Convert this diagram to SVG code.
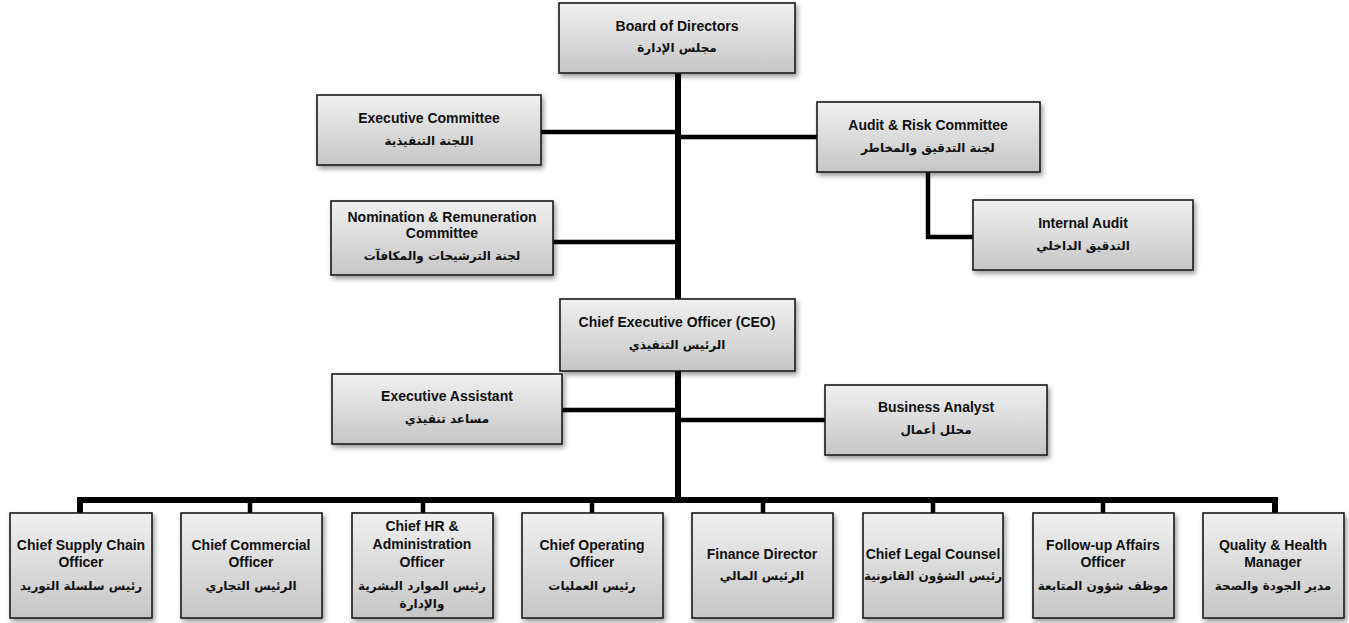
<svg xmlns="http://www.w3.org/2000/svg" width="1349" height="623" viewBox="0 0 1349 623">
<defs>
<linearGradient id="g" x1="0" y1="0" x2="0" y2="1">
<stop offset="0" stop-color="#f0f0f0"/>
<stop offset="1" stop-color="#c6c6c6"/>
</linearGradient>
<filter id="sh" x="-10%" y="-10%" width="125%" height="135%">
<feDropShadow dx="2" dy="3" stdDeviation="2.5" flood-color="#000" flood-opacity="0.4"/>
</filter>
</defs>
<style>
.box{fill:url(#g);stroke:#1a1a1a;stroke-width:1.6;filter:url(#sh)}
.en{font-family:"Liberation Sans",Arial,sans-serif;font-weight:bold;font-size:14px;fill:#111;text-anchor:middle}
.ar{font-family:"DejaVu Sans","Noto Sans",sans-serif;font-weight:bold;font-size:12px;fill:#111;text-anchor:middle}
.c{stroke:#000;fill:none;stroke-linejoin:miter}
.t{stroke-width:6}
.h{stroke-width:4.5}
</style>
<g id="connectors">
<line class="c t" x1="678" y1="73" x2="678" y2="503"/>
<line class="c h" x1="541" y1="132" x2="678" y2="132"/>
<line class="c h" x1="678" y1="137" x2="817" y2="137"/>
<polyline class="c h" points="928,172 928,237 973,237"/>
<line class="c h" x1="553" y1="242" x2="678" y2="242"/>
<line class="c h" x1="562" y1="410" x2="678" y2="410"/>
<line class="c h" x1="678" y1="420" x2="825" y2="420"/>
<polyline class="c t" points="80,513 80,500 1275,500 1275,513"/>
<line class="c h" x1="250" y1="500" x2="250" y2="513"/>
<line class="c h" x1="423" y1="500" x2="423" y2="513"/>
<line class="c h" x1="592" y1="500" x2="592" y2="513"/>
<line class="c h" x1="763" y1="500" x2="763" y2="513"/>
<line class="c h" x1="933" y1="500" x2="933" y2="513"/>
<line class="c h" x1="1103" y1="500" x2="1103" y2="513"/>
</g>
<g id="board">
<rect class="box" x="559" y="3" width="236" height="70"/>
<text class="en" x="677" y="31">Board of Directors</text>
<text class="ar" x="677" y="52">مجلس الإدارة</text>
</g>
<g id="exec-committee">
<rect class="box" x="317" y="95" width="224" height="70"/>
<text class="en" x="429" y="123">Executive Committee</text>
<text class="ar" x="429" y="145">اللجنة التنفيذية</text>
</g>
<g id="audit-risk">
<rect class="box" x="817" y="102" width="223" height="70"/>
<text class="en" x="928" y="130">Audit &amp; Risk Committee</text>
<text class="ar" x="928" y="152">لجنة التدقيق والمخاطر</text>
</g>
<g id="nomination">
<rect class="box" x="331" y="201" width="222" height="74"/>
<text class="en" x="442" y="222">Nomination &amp; Remuneration</text>
<text class="en" x="442" y="238">Committee</text>
<text class="ar" x="442" y="260">لجنة الترشيحات والمكافآت</text>
</g>
<g id="internal-audit">
<rect class="box" x="973" y="200" width="220" height="70"/>
<text class="en" x="1083" y="228">Internal Audit</text>
<text class="ar" x="1083" y="250">التدقيق الداخلي</text>
</g>
<g id="ceo">
<rect class="box" x="560" y="299" width="235" height="72"/>
<text class="en" x="677" y="327">Chief Executive Officer (CEO)</text>
<text class="ar" x="677" y="349">الرئيس التنفيذي</text>
</g>
<g id="exec-assistant">
<rect class="box" x="332" y="374" width="230" height="70"/>
<text class="en" x="447" y="401">Executive Assistant</text>
<text class="ar" x="447" y="423">مساعد تنفيذي</text>
</g>
<g id="business-analyst">
<rect class="box" x="825" y="385" width="222" height="70"/>
<text class="en" x="936" y="412">Business Analyst</text>
<text class="ar" x="936" y="434">محلل أعمال</text>
</g>
<g id="cscm">
<rect class="box" x="10" y="513" width="142" height="105"/>
<text class="en" x="81" y="550">Chief Supply Chain</text>
<text class="en" x="81" y="567">Officer</text>
<text class="ar" x="81" y="590">رئيس سلسلة التوريد</text>
</g>
<g id="cco">
<rect class="box" x="181" y="513" width="141" height="105"/>
<text class="en" x="251" y="550">Chief Commercial</text>
<text class="en" x="251" y="567">Officer</text>
<text class="ar" x="251" y="590">الرئيس التجاري</text>
</g>
<g id="chro">
<rect class="box" x="352" y="513" width="141" height="105"/>
<text class="en" x="422" y="531">Chief HR &amp;</text>
<text class="en" x="422" y="549">Administration</text>
<text class="en" x="422" y="567">Officer</text>
<text class="ar" x="422" y="590">رئيس الموارد البشرية</text>
<text class="ar" x="422" y="608">والإدارة</text>
</g>
<g id="coo">
<rect class="box" x="522" y="513" width="141" height="105"/>
<text class="en" x="592" y="550">Chief Operating</text>
<text class="en" x="592" y="567">Officer</text>
<text class="ar" x="592" y="590">رئيس العمليات</text>
</g>
<g id="finance">
<rect class="box" x="692" y="513" width="141" height="105"/>
<text class="en" x="762" y="559">Finance Director</text>
<text class="ar" x="762" y="580">الرئيس المالي</text>
</g>
<g id="legal">
<rect class="box" x="863" y="513" width="140" height="105"/>
<text class="en" x="933" y="559">Chief Legal Counsel</text>
<text class="ar" x="933" y="580">رئيس الشؤون القانونية</text>
</g>
<g id="followup">
<rect class="box" x="1033" y="513" width="141" height="105"/>
<text class="en" x="1103" y="550">Follow-up Affairs</text>
<text class="en" x="1103" y="567">Officer</text>
<text class="ar" x="1103" y="590">موظف شؤون المتابعة</text>
</g>
<g id="quality">
<rect class="box" x="1203" y="513" width="141" height="105"/>
<text class="en" x="1273" y="550">Quality &amp; Health</text>
<text class="en" x="1273" y="567">Manager</text>
<text class="ar" x="1273" y="590">مدير الجودة والصحة</text>
</g>
</svg>
